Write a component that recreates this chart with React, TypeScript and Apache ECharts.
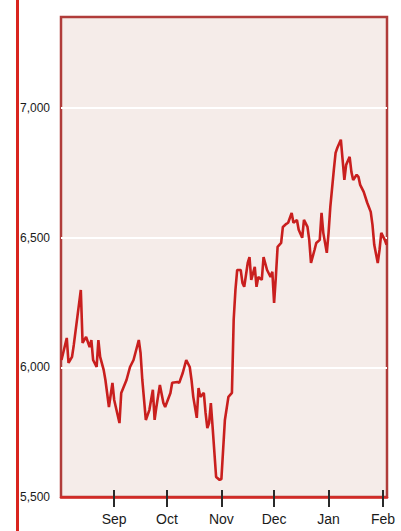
import React, { useEffect, useRef } from 'react';
import * as echarts from 'echarts';

const dates = [
  '2010-08-02', '2010-08-05', '2010-08-06', '2010-08-08', '2010-08-09', '2010-08-13', '2010-08-14', '2010-08-16',
  '2010-08-18', '2010-08-19', '2010-08-20', '2010-08-22', '2010-08-23', '2010-08-24', '2010-08-26', '2010-08-27',
  '2010-08-29', '2010-08-31', '2010-09-01', '2010-09-04', '2010-09-05', '2010-09-08', '2010-09-10', '2010-09-12',
  '2010-09-15', '2010-09-16', '2010-09-17', '2010-09-19', '2010-09-21', '2010-09-23', '2010-09-24', '2010-09-25',
  '2010-09-27', '2010-09-29', '2010-09-30', '2010-10-03', '2010-10-04', '2010-10-07', '2010-10-08', '2010-10-10',
  '2010-10-12', '2010-10-14', '2010-10-15', '2010-10-16', '2010-10-18', '2010-10-19', '2010-10-20', '2010-10-22',
  '2010-10-23', '2010-10-24', '2010-10-25', '2010-10-26', '2010-10-27', '2010-10-29', '2010-10-31', '2010-11-01',
  '2010-11-03', '2010-11-05', '2010-11-07', '2010-11-08', '2010-11-09', '2010-11-10', '2010-11-12', '2010-11-13',
  '2010-11-14', '2010-11-16', '2010-11-17', '2010-11-18', '2010-11-20', '2010-11-21', '2010-11-22', '2010-11-24',
  '2010-11-25', '2010-11-27', '2010-11-29', '2010-11-30', '2010-12-01', '2010-12-02', '2010-12-03', '2010-12-05',
  '2010-12-06', '2010-12-08', '2010-12-09', '2010-12-11', '2010-12-12', '2010-12-14', '2010-12-15', '2010-12-17',
  '2010-12-18', '2010-12-20', '2010-12-21', '2010-12-22', '2010-12-24', '2010-12-25', '2010-12-27', '2010-12-28',
  '2010-12-29', '2010-12-31', '2011-01-01', '2011-01-02', '2011-01-04', '2011-01-05', '2011-01-06', '2011-01-08',
  '2011-01-09', '2011-01-10', '2011-01-11', '2011-01-13', '2011-01-14', '2011-01-15', '2011-01-17', '2011-01-18',
  '2011-01-19', '2011-01-21', '2011-01-23', '2011-01-25', '2011-01-26', '2011-01-27', '2011-01-29', '2011-01-30',
  '2011-01-31', '2011-02-02', '2011-02-03',
];

const values = [
  6028, 6113, 6017, 6040, 6086, 6298, 6094, 6117,
  6078, 6105, 6028, 6001, 6105, 6040, 5990, 5951,
  5847, 5940, 5874, 5785, 5901, 5951, 6001, 6028,
  6105, 6055, 5951, 5797, 5835, 5913, 5797, 5847,
  5932, 5862, 5847, 5901, 5940, 5943, 5940, 5978,
  6028, 6001, 5951, 5886, 5805, 5920, 5886, 5901,
  5824, 5766, 5785, 5862, 5770, 5577, 5566, 5569,
  5797, 5886, 5901, 6183, 6298, 6375, 6375, 6325,
  6310, 6402, 6425, 6337, 6387, 6310, 6348, 6337,
  6425, 6375, 6348, 6368, 6248, 6348, 6464, 6479,
  6541, 6553, 6557, 6595, 6557, 6568, 6530, 6499,
  6568, 6541, 6491, 6402, 6452, 6479, 6491, 6595,
  6518, 6441, 6518, 6618, 6761, 6826, 6846, 6877,
  6799, 6722, 6780, 6811, 6753, 6722, 6742, 6734,
  6703, 6676, 6634, 6599, 6549, 6472, 6402, 6452,
  6518, 6491, 6472,
];

const monthStarts = ['2010-09-01', '2010-10-01', '2010-11-01', '2010-12-01', '2011-01-01', '2011-02-01'];
const monthLabels = ['Sep', 'Oct', 'Nov', 'Dec', 'Jan', 'Feb'];

const yMin = 5500;
const yMax = 7350;
const yInterval = 500;

const xStart = '2010-08-01T17:17';
const xEnd = '2011-02-03T06:14';

function toTime(s: string): number {
  const [datePart, timePart] = s.split('T');
  const [y, m, d] = datePart.split('-').map(Number);
  let hh = 0;
  let mm = 0;
  if (timePart) {
    const parts = timePart.split(':').map(Number);
    hh = parts[0];
    mm = parts[1];
  }
  return new Date(y, m - 1, d, hh, mm).getTime();
}

const FONT = "'Liberation Sans Narrow', 'Arial Narrow', 'Liberation Sans', Arial, sans-serif";

export default function App() {
  const ref = useRef<HTMLDivElement>(null);

  useEffect(() => {
    if (!ref.current) return;
    const chart = echarts.init(ref.current, null, { renderer: 'svg' });
    const tickTimes = monthStarts.map(toTime);
    const xMin = toTime(xStart);
    const xMax = toTime(xEnd);
    const monthFormatter = (val: number) => {
      let best = 0;
      let bestD = Infinity;
      tickTimes.forEach((t, i) => {
        const dd = Math.abs(t - val);
        if (dd < bestD) {
          bestD = dd;
          best = i;
        }
      });
      return monthLabels[best];
    };
    const tickStyle = { color: '#2a2a2a', width: 2 };

    const option: any = {
      animation: false,
      backgroundColor: '#ffffff',
      grid: {
        left: 61,
        right: 14,
        top: 17,
        bottom: 34,
        show: true,
        backgroundColor: '#f5ece9',
        borderColor: '#b03c3a',
        borderWidth: 2.5,
        containLabel: false,
        outerBoundsMode: 'none',
      },
      xAxis: [
        {
          type: 'value',
          min: xMin,
          max: xMax,
          position: 'bottom',
          axisLine: { show: true, lineStyle: { color: '#d42a26', width: 2.5 } },
          axisTick: { show: true, customValues: tickTimes, length: 10, lineStyle: tickStyle },
          axisLabel: {
            customValues: tickTimes,
            formatter: monthFormatter,
            margin: 15,
            fontFamily: FONT,
            fontSize: 14,
            color: '#1a1a1a',
          },
          splitLine: { show: false },
        },
        {
          type: 'value',
          min: xMin,
          max: xMax,
          position: 'top',
          offset: -480,
          axisLine: { show: false },
          axisTick: { show: true, customValues: tickTimes, length: 7, lineStyle: tickStyle },
          axisLabel: { show: false },
          splitLine: { show: false },
        },
      ],
      yAxis: {
        type: 'value',
        min: yMin,
        max: yMax,
        interval: yInterval,
        axisLine: { show: false },
        axisTick: { show: false },
        axisLabel: {
          showMaxLabel: false,
          margin: 11,
          fontFamily: FONT,
          fontSize: 12,
          color: '#1a1a1a',
          formatter: (v: number) => v.toLocaleString('en-US'),
        },
        splitLine: {
          show: true,
          showMinLine: false,
          showMaxLine: false,
          lineStyle: { color: '#ffffff', width: 2 },
        },
      },
      series: [
        {
          type: 'line',
          xAxisIndex: 0,
          data: dates.map((d, i) => [toTime(d), values[i]]),
          showSymbol: false,
          lineStyle: { color: '#c91f1e', width: 2.6 },
        },
      ],
      graphic: [
        {
          type: 'line',
          shape: { x1: 17.5, y1: 0, x2: 17.5, y2: 531 },
          style: { stroke: '#d9241e', lineWidth: 3 },
        },
      ],
    };
    chart.setOption(option);
    return () => chart.dispose();
  }, []);

  return (
    <div
      ref={ref}
      style={{ position: 'fixed', left: 0, top: 0, width: 401, height: 531, background: '#ffffff' }}
    />
  );
}
